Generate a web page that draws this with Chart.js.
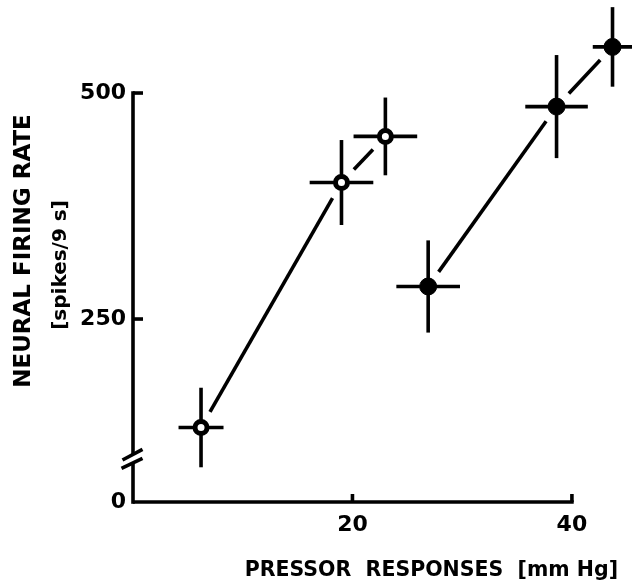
<!DOCTYPE html>
<html>
<head>
<meta charset="utf-8">
<script src="https://cdn.jsdelivr.net/npm/chart.js@4/dist/chart.umd.min.js"></script>
<style>
body { margin: 0; background: #fff; }
#wrap { width: 632px; height: 583px; }
</style>
</head>
<body>
<div id="wrap"><canvas id="chart"></canvas></div>
<script>
// open circles
const openX = [6.2, 19.0, 23.0];
const openY = [130, 401, 452];
const openXErr = [2.05, 2.9, 2.9];
const openYErr = [44, 47, 43];

// filled circles
const filledX = [26.9, 38.6, 43.7];
const filledY = [286, 485, 551];
const filledXErr = [2.9, 2.85, 1.8];
const filledYErr = [51, 57, 44];

const xTicks = [20, 40];
const yTicks = [250, 500];
const yBase = 47.6; // bottom of the broken axis, labelled 0

const FONT = 'DejaVu Sans';
const LW = 3.6;

function seg(ctx, x1, y1, x2, y2) {
    ctx.beginPath();
    ctx.moveTo(x1, y1);
    ctx.lineTo(x2, y2);
    ctx.stroke();
}

const drawing = {
    id: 'drawing',
    beforeDatasetsDraw(chart) {
        const { ctx, scales: { x, y } } = chart;
        ctx.save();
        ctx.strokeStyle = '#000';
        ctx.lineWidth = LW;

        // axes
        const x0 = x.left, y0 = y.bottom;
        seg(ctx, x0, y.getPixelForValue(500) - LW / 2, x0, y0 - 47);
        seg(ctx, x0, y0 - 40, x0, y0 + LW / 2);
        seg(ctx, x0, y0, x.getPixelForValue(40) + LW / 2, y0);
        yTicks.forEach(v => {
            const p = y.getPixelForValue(v);
            seg(ctx, x0, p, x0 + 10, p);
        });
        xTicks.forEach(v => {
            const p = x.getPixelForValue(v);
            seg(ctx, p, y0, p, y0 - 8);
        });
        // break marks
        seg(ctx, x0 - 10.5, y0 - 42, x0 + 9.5, y0 - 52.7);
        seg(ctx, x0 - 11.5, y0 - 33.7, x0 + 9.5, y0 - 43.7);

        // error bars + connecting lines
        const sets = [
            [openX, openY, openXErr, openYErr],
            [filledX, filledY, filledXErr, filledYErr]
        ];
        const gap = 18;
        sets.forEach(([xs, ys, xe, ye]) => {
            xs.forEach((v, i) => {
                const px = x.getPixelForValue(v);
                const py = y.getPixelForValue(ys[i]);
                seg(ctx, x.getPixelForValue(v - xe[i]), py, x.getPixelForValue(v + xe[i]), py);
                seg(ctx, px, y.getPixelForValue(ys[i] - ye[i]), px, y.getPixelForValue(ys[i] + ye[i]));
                if (i > 0) {
                    const qx = x.getPixelForValue(xs[i - 1]);
                    const qy = y.getPixelForValue(ys[i - 1]);
                    const d = Math.hypot(px - qx, py - qy);
                    const ux = (px - qx) / d, uy = (py - qy) / d;
                    seg(ctx, qx + ux * gap, qy + uy * gap, px - ux * gap, py - uy * gap);
                }
            });
        });
        ctx.restore();
    },
    afterDraw(chart) {
        const ctx = chart.ctx;
        ctx.save();
        ctx.translate(61, 265);
        ctx.rotate(-Math.PI / 2);
        ctx.fillStyle = '#000';
        ctx.font = 'bold 20px "' + FONT + '"';
        ctx.textAlign = 'center';
        ctx.textBaseline = 'middle';
        ctx.fillText('[spikes/9 s]', 0, 0);
        ctx.restore();
    }
};

const canvas = document.getElementById('chart');
new Chart(canvas, {
    type: 'scatter',
    data: {
        datasets: [{
            data: openX.map((v, i) => ({ x: v, y: openY[i] })),
            pointRadius: 6,
            borderWidth: 5,
            borderColor: '#000',
            backgroundColor: '#fff',
            clip: false
        }, {
            data: filledX.map((v, i) => ({ x: v, y: filledY[i] })),
            pointRadius: 8.5,
            borderWidth: 1,
            borderColor: '#000',
            backgroundColor: '#000',
            clip: false
        }]
    },
    options: {
        responsive: true,
        maintainAspectRatio: false,
        animation: false,
        events: [],
        layout: { autoPadding: false, padding: { top: 0, left: 0, right: 14, bottom: 0 } },
        plugins: {
            legend: { display: false },
            tooltip: { enabled: false }
        },
        scales: {
            x: {
                type: 'linear',
                min: 0,
                max: 44.2,
                grid: { display: false, drawTicks: false },
                border: { display: false },
                afterBuildTicks: s => { s.ticks = xTicks.map(v => ({ value: v })); },
                afterFit: s => { s.height = 81; s.paddingLeft = 0; s.paddingRight = 0; },
                ticks: {
                    color: '#000',
                    padding: 10,
                    maxRotation: 0,
                    font: { family: FONT, weight: 'bold', size: 22 }
                },
                title: {
                    display: true,
                    text: 'PRESSOR  RESPONSES  [mm Hg]',
                    align: 'end',
                    color: '#000',
                    padding: { top: 0, bottom: 0 },
                    font: { family: FONT, weight: 'bold', size: 20.5 }
                }
            },
            y: {
                type: 'linear',
                min: yBase,
                max: 602.9,
                grid: { display: false, drawTicks: false },
                border: { display: false },
                afterBuildTicks: s => { s.ticks = [yBase].concat(yTicks).map(v => ({ value: v })); },
                afterFit: s => { s.width = 133; s.paddingTop = 0; s.paddingBottom = 0; },
                ticks: {
                    color: '#000',
                    padding: 7,
                    font: { family: FONT, weight: 'bold', size: 22 },
                    callback: v => Math.abs(v - yBase) < 0.01 ? '0' : String(v)
                },
                title: {
                    display: true,
                    text: 'NEURAL FIRING RATE',
                    color: '#000',
                    padding: { top: 10, bottom: 0 },
                    font: { family: FONT, weight: 'bold', size: 23 }
                }
            }
        }
    },
    plugins: [drawing]
});
</script>
</body>
</html>
